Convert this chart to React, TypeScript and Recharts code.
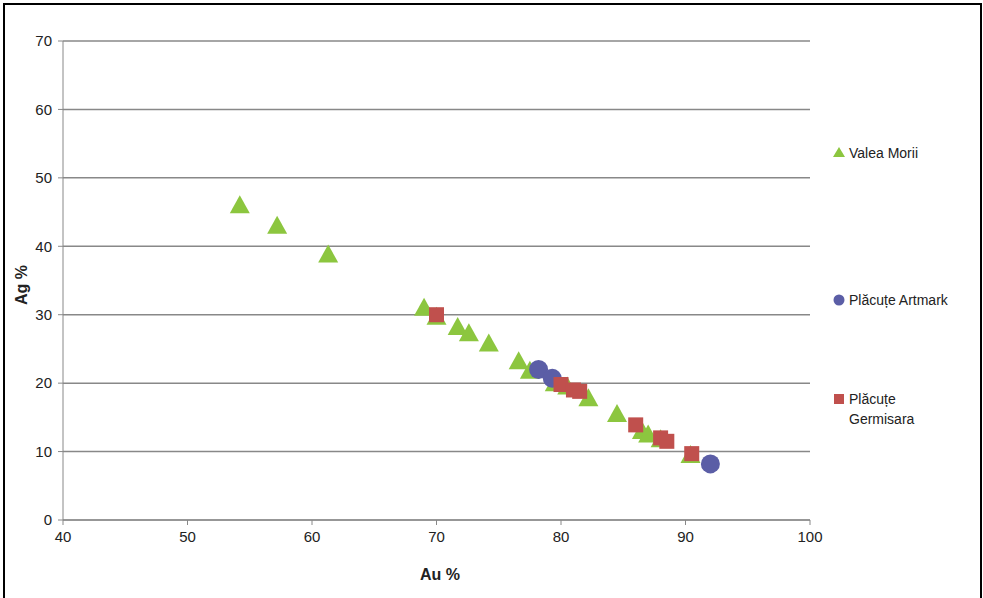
import { ScatterChart, Scatter, XAxis, YAxis, CartesianGrid } from 'recharts'

const valeaMorii = [
  { au: 54.2, ag: 46 }, { au: 57.2, ag: 43 }, { au: 61.3, ag: 38.8 }, { au: 69, ag: 31 },
  { au: 70, ag: 29.7 }, { au: 71.7, ag: 28.2 }, { au: 72.6, ag: 27.3 }, { au: 74.2, ag: 25.8 },
  { au: 76.6, ag: 23.2 }, { au: 77.5, ag: 21.8 }, { au: 79.5, ag: 20 }, { au: 80.5, ag: 19.5 },
  { au: 82.2, ag: 17.8 }, { au: 84.5, ag: 15.5 }, { au: 86.5, ag: 13 }, { au: 87, ag: 12.5 },
  { au: 88, ag: 11.8 }, { au: 90.4, ag: 9.5 },
]
const placuteArtmark = [{ au: 78.2, ag: 22 }, { au: 79.3, ag: 20.7 }, { au: 92, ag: 8.2 }]
const placuteGermisara = [
  { au: 70, ag: 30 }, { au: 80, ag: 19.8 }, { au: 81, ag: 19 }, { au: 81.5, ag: 18.8 },
  { au: 86, ag: 13.9 }, { au: 88, ag: 12 }, { au: 88.5, ag: 11.5 }, { au: 90.5, ag: 9.7 },
]
const xTicks = [40, 50, 60, 70, 80, 90, 100]
const yTicks = [0, 10, 20, 30, 40, 50, 60, 70]

const GREEN = '#8cc63f'
const PURPLE = '#5b5ea6'
const RED = '#c0504d'
const font = 'Liberation Sans, Arial, sans-serif'

const tri = (p: any) => (
  <polygon points={`${p.cx},${p.cy - 10} ${p.cx - 10},${p.cy + 8} ${p.cx + 10},${p.cy + 8}`} fill={GREEN} />
)
const dot = (p: any) => <circle cx={p.cx} cy={p.cy} r={9.5} fill={PURPLE} />
const sq = (p: any) => <rect x={p.cx - 7.5} y={p.cy - 7.5} width={15} height={15} fill={RED} />

export default function App() {
  return (
    <div style={{ position: 'absolute', left: 0, top: 0, width: 983, height: 598, background: '#fff', fontFamily: font }}>
      <div style={{ position: 'absolute', left: 3, top: 3, width: 975, height: 600, border: '2px solid #000' }} />
      <ScatterChart width={983} height={598} margin={{ top: 41, right: 173, bottom: 48, left: 0 }}>
        <CartesianGrid horizontal vertical={false} stroke="#888" strokeWidth={1.5} />
        <XAxis type="number" dataKey="au" domain={[40, 100]} ticks={xTicks} stroke="#888"
          tick={{ fill: '#222', fontSize: 15, fontFamily: font }} tickSize={5} tickMargin={6} />
        <YAxis type="number" dataKey="ag" domain={[0, 70]} ticks={yTicks} width={63} stroke="#888"
          tick={{ fill: '#222', fontSize: 15, fontFamily: font }} tickSize={5} tickMargin={6} />
        <Scatter data={valeaMorii} shape={tri} isAnimationActive={false} />
        <Scatter data={placuteArtmark} shape={dot} isAnimationActive={false} />
        <Scatter data={placuteGermisara} shape={sq} isAnimationActive={false} />
      </ScatterChart>
      <svg style={{ position: 'absolute', left: 0, top: 0 }} width={983} height={598}>
        <text x={440} y={580} textAnchor="middle" fontSize={16} fontWeight="bold" fill="#222" fontFamily={font}>Au %</text>
        <text transform="translate(27,285) rotate(-90)" textAnchor="middle" fontSize={16} fontWeight="bold" fill="#222" fontFamily={font}>Ag %</text>
      </svg>
      <svg style={{ position: 'absolute', left: 830, top: 140 }} width={150} height={300}>
        <polygon points="9,7 3,17 15,17" fill={GREEN} />
        <text x={19} y={18} fontSize={14} fill="#222" fontFamily={font}>Valea Morii</text>
        <circle cx={9} cy={160} r={5.5} fill={PURPLE} />
        <text x={19} y={165} fontSize={14} fill="#222" fontFamily={font}>Plăcuțe Artmark</text>
        <rect x={4} y={254} width={10} height={10} fill={RED} />
        <text x={19} y={264} fontSize={14} fill="#222" fontFamily={font}>Plăcuțe</text>
        <text x={19} y={284} fontSize={14} fill="#222" fontFamily={font}>Germisara</text>
      </svg>
    </div>
  )
}
